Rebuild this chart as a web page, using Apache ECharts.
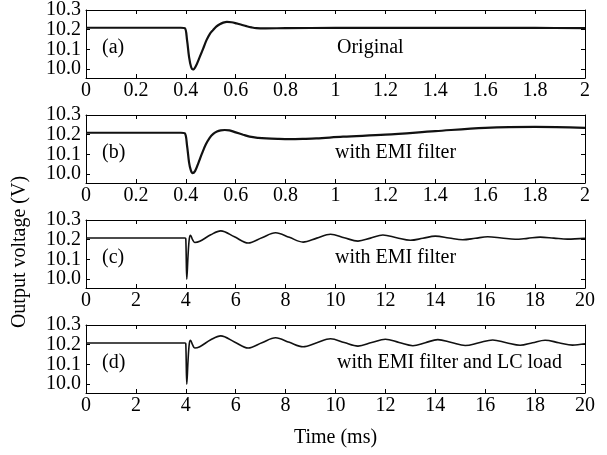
<!DOCTYPE html>
<html>
<head>
<meta charset="utf-8">
<script src="https://cdn.jsdelivr.net/npm/echarts@6/dist/echarts.min.js"></script>
<style>
html,body{margin:0;padding:0;background:#fff;}
#chart{width:607px;height:455px;}
</style>
</head>
<body>
<div id="chart"></div>
<script>
// ---- data ----
const yTicks = [10.0, 10.1, 10.2, 10.3];
const panelLabels = ['(a)', '(b)', '(c)', '(d)'];
const panelNotes = ['Original', 'with EMI filter', 'with EMI filter', 'with EMI filter and LC load'];
const yName = 'Output voltage (V)';
const xName = 'Time (ms)';

// panel (a): time axis 0..2
const tA = [0, 0.2, 0.38, 0.396, 0.405, 0.413, 0.421, 0.429, 0.44, 0.456, 0.47, 0.483, 0.496, 0.509, 0.522, 0.536, 0.55, 0.565, 0.583, 0.603, 0.623, 0.643, 0.663, 0.683, 0.72, 0.8, 1.0, 1.2, 1.4, 1.6, 1.8, 2.0];
const vA = [10.21, 10.21, 10.21, 10.208, 10.147, 10.062, 10.012, 9.998, 10.015, 10.062, 10.105, 10.147, 10.178, 10.198, 10.216, 10.228, 10.236, 10.24, 10.238, 10.232, 10.225, 10.218, 10.212, 10.208, 10.207, 10.208, 10.209, 10.209, 10.209, 10.209, 10.209, 10.208];

// panel (b): time axis 0..2
const tB = [0, 0.2, 0.38, 0.396, 0.405, 0.413, 0.42, 0.427, 0.437, 0.45, 0.465, 0.48, 0.495, 0.51, 0.525, 0.54, 0.556, 0.575, 0.6, 0.63, 0.656, 0.69, 0.723, 0.77, 0.816, 0.87, 0.923, 1.03, 1.2, 1.4, 1.6, 1.8, 2.0];
const vB = [10.21, 10.21, 10.21, 10.207, 10.145, 10.06, 10.02, 10.005, 10.015, 10.055, 10.105, 10.15, 10.183, 10.204, 10.216, 10.222, 10.224, 10.222, 10.212, 10.2, 10.19, 10.184, 10.181, 10.179, 10.178, 10.179, 10.181, 10.19, 10.2, 10.218, 10.235, 10.24, 10.235];

// panel (c): time axis 0..20 ms
const tC = [0, 2, 3.97, 4.0, 4.04, 4.09, 4.14, 4.19, 4.27, 4.36, 4.56, 5.0, 5.4, 5.95, 6.5, 7.05, 7.6, 8.15, 8.7, 9.25, 9.8, 10.35, 10.9, 11.4, 11.9, 12.45, 13.0, 13.5, 14.0, 14.55, 15.1, 15.6, 16.1, 16.65, 17.2, 17.7, 18.2, 18.75, 19.3, 20];
const vC = [10.209, 10.209, 10.209, 10.205, 10.0, 10.12, 10.205, 10.223, 10.2, 10.186, 10.192, 10.225, 10.245, 10.215, 10.183, 10.21, 10.235, 10.212, 10.188, 10.208, 10.228, 10.21, 10.193, 10.208, 10.224, 10.21, 10.197, 10.207, 10.218, 10.209, 10.2, 10.207, 10.215, 10.209, 10.202, 10.207, 10.213, 10.208, 10.203, 10.207];

// panel (d): time axis 0..20 ms
const tD = [0, 2, 3.97, 4.0, 4.04, 4.09, 4.14, 4.19, 4.27, 4.36, 4.56, 5.0, 5.4, 5.95, 6.5, 7.05, 7.6, 8.15, 8.7, 9.25, 9.8, 10.35, 10.9, 11.45, 12.0, 12.55, 13.1, 13.6, 14.1, 14.65, 15.2, 15.75, 16.3, 16.85, 17.4, 17.9, 18.4, 18.95, 19.5, 20];
const vD = [10.209, 10.209, 10.209, 10.205, 10.0, 10.12, 10.205, 10.222, 10.2, 10.183, 10.19, 10.225, 10.245, 10.214, 10.183, 10.21, 10.235, 10.212, 10.19, 10.21, 10.23, 10.211, 10.193, 10.211, 10.228, 10.211, 10.195, 10.21, 10.226, 10.211, 10.196, 10.21, 10.224, 10.21, 10.197, 10.21, 10.223, 10.21, 10.198, 10.205];

const xRanges = [[0, 2, 0.2], [0, 2, 0.2], [0, 20, 2], [0, 20, 2]];
const series = [[tA, vA], [tB, vB], [tC, vC], [tD, vD]];

// ---- layout ----
const FONT = 'Liberation Serif';
const tops = [10, 115, 220, 325];
const gridH = 68;
const gridL = 86, gridR = 22;

const grids = [], xAxes = [], yAxes = [], ser = [], graphics = [];
const lineCol = '#000';
const labEven = yTicks.filter((v, k) => k % 2 === 0);
const labOdd = yTicks.filter((v, k) => k % 2 === 1);
for (let i = 0; i < 4; i++) {
  grids.push({left: gridL, right: gridR, top: tops[i], height: gridH});
  const [xmin, xmax, xint] = xRanges[i];
  const isLast = i === 3;
  xAxes.push({
    type: 'value', gridIndex: i, position: 'bottom', min: xmin, max: xmax, interval: xint,
    axisLine: {show: true, onZero: false, lineStyle: {color: lineCol, width: 1}},
    axisTick: {show: true, inside: true, length: 4, lineStyle: {color: lineCol}},
    axisLabel: {color: '#000', fontFamily: FONT, fontSize: 20, margin: 3, hideOverlap: false,
      formatter: v => String(Math.round(v * 10) / 10)},
    splitLine: {show: false},
    name: isLast ? xName : '', nameLocation: 'middle', nameGap: 35,
    nameTextStyle: {color: '#000', fontFamily: FONT, fontSize: 20}
  });
  xAxes.push({
    type: 'value', gridIndex: i, position: 'top', min: xmin, max: xmax, interval: xint,
    axisLine: {show: true, onZero: false, lineStyle: {color: lineCol, width: 1}},
    axisTick: {show: true, inside: true, length: 4, lineStyle: {color: lineCol}},
    axisLabel: {show: false}, splitLine: {show: false}
  });
  const yBase = {
    type: 'value', gridIndex: i, min: 9.955, max: 10.3,
    axisLine: {show: true, onZero: false, lineStyle: {color: lineCol, width: 1}},
    splitLine: {show: false}
  };
  const labStyle = {color: '#000', fontFamily: FONT, fontSize: 20, margin: 5,
    showMinLabel: true, showMaxLabel: true, formatter: v => Number(v).toFixed(1)};
  // left axis (line, ticks, labels 10.0 / 10.2)
  yAxes.push(Object.assign({}, yBase, {
    position: 'left',
    axisTick: {show: true, inside: true, length: 4, customValues: yTicks, lineStyle: {color: lineCol}},
    axisLabel: Object.assign({show: true, customValues: labEven}, labStyle)
  }));
  // left axis overlay (labels 10.1 / 10.3)
  yAxes.push(Object.assign({}, yBase, {
    position: 'left',
    axisLine: {show: false}, axisTick: {show: false},
    axisLabel: Object.assign({show: true, customValues: labOdd}, labStyle)
  }));
  // right axis (mirror ticks)
  yAxes.push(Object.assign({}, yBase, {
    position: 'right',
    axisTick: {show: true, inside: true, length: 4, customValues: yTicks, lineStyle: {color: lineCol}},
    axisLabel: {show: false}
  }));
  const [ts, vs] = series[i];
  ser.push({
    type: 'line', xAxisIndex: 2 * i, yAxisIndex: 3 * i, showSymbol: false, symbol: 'none',
    smooth: 0.35, animation: false,
    lineStyle: {color: '#111', width: i < 2 ? 2.2 : 1.6},
    data: ts.map((t, k) => [t, vs[k]])
  });
  const midY = tops[i] + gridH * (10.3 - 10.1) / (10.3 - 9.955);
  graphics.push({type: 'text', left: 102, top: midY - 12,
    style: {text: panelLabels[i], font: '20px "' + FONT + '"', fill: '#000'}});
  graphics.push({type: 'text', left: i === 0 ? 337 : (i === 3 ? 337 : 335), top: midY - 12,
    style: {text: panelNotes[i], font: '20px "' + FONT + '"', fill: '#000'}});
}
graphics.push({type: 'text', x: 20, y: 252, rotation: Math.PI / 2,
  style: {text: yName, font: '20px "' + FONT + '"', fill: '#000', align: 'center', verticalAlign: 'middle'}});

const chart = echarts.init(document.getElementById('chart'), null, {renderer: 'canvas'});
chart.setOption({
  animation: false,
  backgroundColor: '#fff',
  grid: grids, xAxis: xAxes, yAxis: yAxes, series: ser, graphic: graphics
});
</script>
</body>
</html>
